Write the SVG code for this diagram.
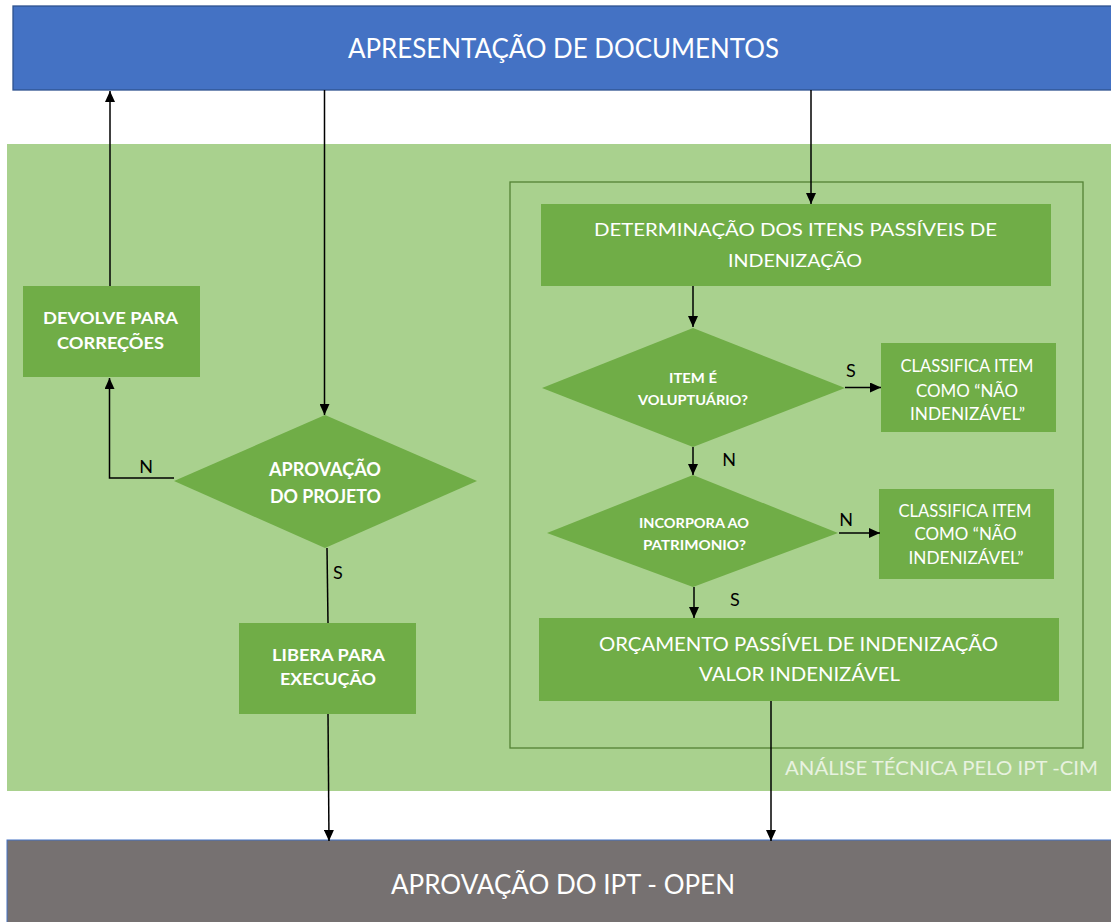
<svg xmlns="http://www.w3.org/2000/svg" width="1111" height="922" viewBox="0 0 1111 922">
<style>
text{font-family:Lato,"Open Sans","Liberation Sans",sans-serif;fill:#fff;text-anchor:middle}
.node{fill:#70AD47}
.big{font-size:26px}
.box{font-size:17px;font-weight:bold}
.mid{font-size:18px}
.sm{font-size:12.5px;font-weight:bold}
.lbl{font-size:18px;fill:#000}
.conn line,.conn polyline{stroke:#000;stroke-width:1.5;fill:none}
</style>
<defs>
<marker id="ah" markerUnits="userSpaceOnUse" markerWidth="11" markerHeight="10" refX="11" refY="5" orient="auto">
<path d="M0,0 L11,5 L0,10 z" fill="#000"/>
</marker>
</defs>
<rect width="1111" height="922" fill="#fff"/>
<rect id="area-analise" x="7" y="144" width="1104" height="647" fill="#A9D18E"/>
<rect id="inner-box" x="510" y="182" width="573" height="566" fill="none" stroke="#548235" stroke-width="1.3"/>
<text x="785" y="775" style="font-size:20px;text-anchor:start;fill:#E8F2E0" textLength="313" lengthAdjust="spacingAndGlyphs">ANÁLISE TÉCNICA PELO IPT -CIM</text>

<g id="apresentacao">
<rect x="13" y="6" width="1100" height="84" fill="#4472C4" stroke="#2F528F" stroke-width="1.3"/>
<text x="563.5" y="58" class="big" textLength="431" lengthAdjust="spacingAndGlyphs">APRESENTAÇÃO DE DOCUMENTOS</text>
</g>

<g id="aprovacao-ipt">
<rect x="7" y="840" width="1106" height="84" fill="#767171" stroke="#4472C4" stroke-width="1"/>
<text x="563" y="894" class="big" textLength="344" lengthAdjust="spacingAndGlyphs">APROVAÇÃO DO IPT - OPEN</text>
</g>

<g id="devolve">
<rect x="23" y="286" width="177" height="91" class="node"/>
<text x="110.5" y="324" class="box" textLength="135" lengthAdjust="spacingAndGlyphs">DEVOLVE PARA</text>
<text x="110.5" y="349" class="box" textLength="107" lengthAdjust="spacingAndGlyphs">CORREÇÕES</text>
</g>

<g id="aprovacao-projeto">
<polygon points="325,415 477,481 325,548 174,481" class="node"/>
<text x="325" y="476" class="box" style="font-size:18px" textLength="112" lengthAdjust="spacingAndGlyphs">APROVAÇÃO</text>
<text x="325.5" y="503" class="box" style="font-size:18px" textLength="111" lengthAdjust="spacingAndGlyphs">DO PROJETO</text>
</g>

<g id="libera">
<rect x="239" y="623" width="177" height="91" class="node"/>
<text x="328.5" y="661" class="box" textLength="113" lengthAdjust="spacingAndGlyphs">LIBERA PARA</text>
<text x="328" y="685" class="box" textLength="96" lengthAdjust="spacingAndGlyphs">EXECUÇÃO</text>
</g>

<g id="determinacao">
<rect x="541" y="204" width="510" height="82" class="node"/>
<text x="795.5" y="235.5" class="mid" textLength="403" lengthAdjust="spacingAndGlyphs">DETERMINAÇÃO DOS ITENS PASSÍVEIS DE</text>
<text x="795" y="266.5" class="mid" textLength="134" lengthAdjust="spacingAndGlyphs">INDENIZAÇÃO</text>
</g>

<g id="voluptuario">
<polygon points="693,328 845,388 693,447 542,388" class="node"/>
<text x="693" y="382.5" class="sm" textLength="48" lengthAdjust="spacingAndGlyphs">ITEM É</text>
<text x="693" y="404.5" class="sm" textLength="110" lengthAdjust="spacingAndGlyphs">VOLUPTUÁRIO?</text>
</g>

<g id="classifica-1">
<rect x="881" y="343" width="175" height="89" class="node"/>
<text x="967" y="371.5" class="mid" textLength="133" lengthAdjust="spacingAndGlyphs">CLASSIFICA ITEM</text>
<text x="967" y="396.5" class="mid" textLength="102" lengthAdjust="spacingAndGlyphs">COMO “NÃO</text>
<text x="967.5" y="419.5" class="mid" textLength="115" lengthAdjust="spacingAndGlyphs">INDENIZÁVEL”</text>
</g>

<g id="patrimonio">
<polygon points="693,475 838,533 693,587 547,533" class="node"/>
<text x="694" y="527.5" class="sm" textLength="110" lengthAdjust="spacingAndGlyphs">INCORPORA AO</text>
<text x="694.5" y="549.5" class="sm" textLength="103" lengthAdjust="spacingAndGlyphs">PATRIMONIO?</text>
</g>

<g id="classifica-2">
<rect x="879" y="489" width="175" height="90" class="node"/>
<text x="965" y="516.5" class="mid" textLength="133" lengthAdjust="spacingAndGlyphs">CLASSIFICA ITEM</text>
<text x="965.5" y="539.5" class="mid" textLength="102" lengthAdjust="spacingAndGlyphs">COMO “NÃO</text>
<text x="966" y="563.5" class="mid" textLength="115" lengthAdjust="spacingAndGlyphs">INDENIZÁVEL”</text>
</g>

<g id="orcamento">
<rect x="539" y="618" width="520" height="83" class="node"/>
<text x="798.5" y="651" class="mid" style="font-size:19px" textLength="399" lengthAdjust="spacingAndGlyphs">ORÇAMENTO PASSÍVEL DE INDENIZAÇÃO</text>
<text x="799.5" y="681" class="mid" style="font-size:19px" textLength="201" lengthAdjust="spacingAndGlyphs">VALOR INDENIZÁVEL</text>
</g>

<g id="connectors" class="conn">
<line x1="110" y1="286" x2="110" y2="91" marker-end="url(#ah)"/>
<polyline points="174,478 109.5,478 109.5,378" marker-end="url(#ah)"/>
<line x1="324.5" y1="90" x2="324.5" y2="415" marker-end="url(#ah)"/>
<line x1="327" y1="548" x2="328" y2="623"/>
<line x1="328" y1="714" x2="329" y2="841" marker-end="url(#ah)"/>
<line x1="811" y1="90" x2="811" y2="204" marker-end="url(#ah)"/>
<line x1="693" y1="286" x2="693" y2="327" marker-end="url(#ah)"/>
<line x1="845" y1="387.5" x2="881" y2="387.5" marker-end="url(#ah)"/>
<line x1="693" y1="447" x2="693" y2="475" marker-end="url(#ah)"/>
<line x1="839" y1="533" x2="880" y2="533" marker-end="url(#ah)"/>
<line x1="694" y1="587" x2="694" y2="618" marker-end="url(#ah)"/>
<line x1="771" y1="701" x2="771" y2="841" marker-end="url(#ah)"/>
<text x="146" y="472.5" class="lbl">N</text>
<text x="338" y="578.5" class="lbl">S</text>
<text x="851" y="376.5" class="lbl">S</text>
<text x="729" y="465.5" class="lbl">N</text>
<text x="846" y="525.5" class="lbl">N</text>
<text x="735" y="605.5" class="lbl">S</text>
</g>
</svg>
